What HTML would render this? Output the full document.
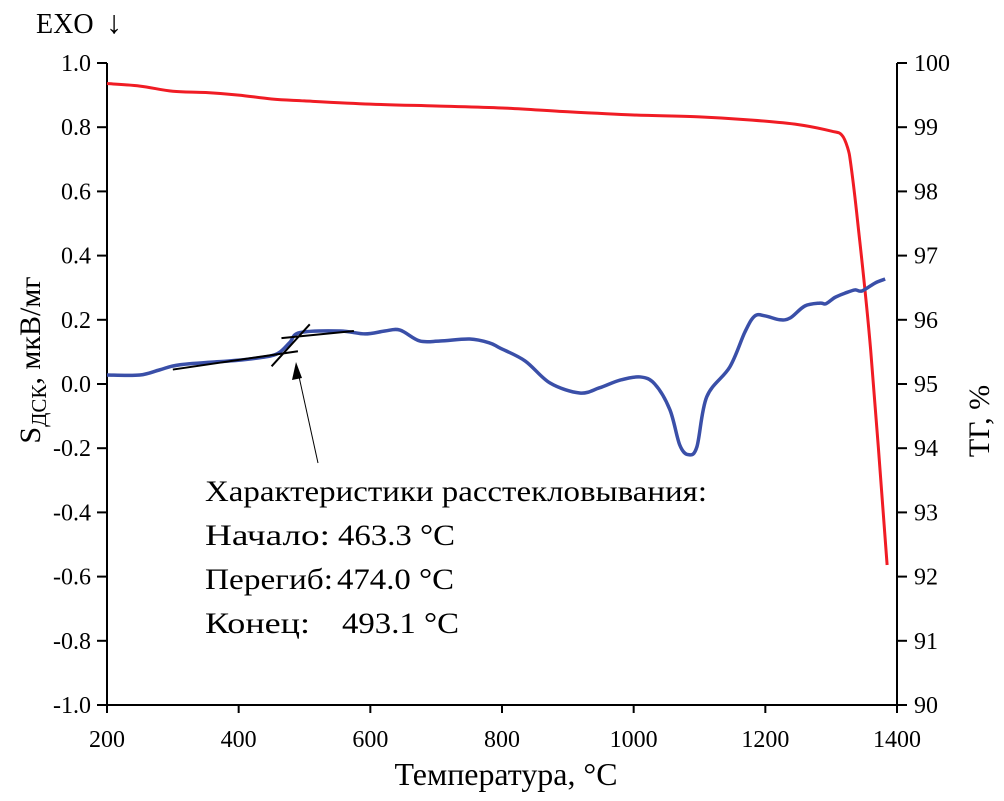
<!DOCTYPE html>
<html><head><meta charset="utf-8"><style>
body{margin:0;background:#fff}
svg{display:block;font-family:"Liberation Serif","DejaVu Serif",serif}
</style></head><body>
<svg id="c" width="1004" height="801" viewBox="0 0 1004 801"></svg>
<script>
const dscTemps=[200,250,280,311,387,417,448,463,478,493,554,592,622,645,675,706,751,781,797,835,873,918,948,979,1010,1032,1055,1070,1083,1096,1111,1146,1169,1184,1200,1222,1238,1260,1283,1292,1306,1321,1336,1347,1367,1382];
const dscValues=[0.028,0.028,0.044,0.06,0.072,0.078,0.087,0.1,0.13,0.16,0.165,0.156,0.165,0.168,0.134,0.134,0.14,0.128,0.112,0.072,0.003,-0.028,-0.012,0.012,0.022,0,-0.08,-0.19,-0.22,-0.196,-0.04,0.053,0.162,0.212,0.212,0.2,0.206,0.243,0.252,0.25,0.27,0.283,0.293,0.29,0.315,0.327];
const tgTemps=[200,250,300,350,400,450,500,600,700,800,900,1000,1100,1180,1250,1300,1316,1325,1330,1340,1360,1385];
const tgValues=[99.68,99.64,99.56,99.54,99.5,99.44,99.41,99.36,99.33,99.3,99.24,99.19,99.16,99.11,99.04,98.94,98.88,98.68,98.41,97.55,95.53,92.18];
const xTicks=[200,400,600,800,1000,1200,1400];
const yTicks=[1.0,0.8,0.6,0.4,0.2,0.0,-0.2,-0.4,-0.6,-0.8,-1.0];
const y2Ticks=[100,99,98,97,96,95,94,93,92,91,90];
const tangentLines=[[[300,0.045],[490,0.102]],[[465,0.143],[575,0.165]],[[450,0.055],[508,0.186]]];

const NS="http://www.w3.org/2000/svg",svg=document.getElementById('c');
const X0=107,X1=897,Y0=63,Y1=705;
const sx=t=>X0+(t-200)/1200*(X1-X0);
const sy=v=>Y0+(1-v)/2*(Y1-Y0);
const sy2=v=>Y0+(100-v)/10*(Y1-Y0);
function el(tag,attrs,txt){const e=document.createElementNS(NS,tag);for(const k in attrs)e.setAttribute(k,attrs[k]);if(txt!==undefined)e.textContent=txt;svg.appendChild(e);return e;}
function smooth(p){let d='M'+p[0][0]+','+p[0][1];for(let i=0;i<p.length-1;i++){const a=p[Math.max(i-1,0)],b=p[i],c=p[i+1],n=p[Math.min(i+2,p.length-1)];d+=' C'+(b[0]+(c[0]-a[0])/6)+','+(b[1]+(c[1]-a[1])/6)+' '+(c[0]-(n[0]-b[0])/6)+','+(c[1]-(n[1]-b[1])/6)+' '+c[0]+','+c[1];}return d;}
let e;
e=el('line',{x1:X0,y1:Y0,x2:X0,y2:Y1,stroke:'#000','stroke-width':2});


e=el('line',{x1:X1,y1:Y0,x2:X1,y2:Y1,stroke:'#000','stroke-width':2});


e=el('line',{x1:X0,y1:Y1,x2:X1,y2:Y1,stroke:'#000','stroke-width':2});


xTicks.forEach(t=>{
 e=el('line',{x1:sx(t),y1:Y1,x2:sx(t),y2:Y1+8,stroke:'#000','stroke-width':2});
 
 
 e=el('text',{x:sx(t),y:Y1+42,'text-anchor':'middle','font-size':24},t);
 
 
});
yTicks.forEach(v=>{
 e=el('line',{x1:X0-10,y1:sy(v),x2:X0,y2:sy(v),stroke:'#000','stroke-width':2});
 
 
 e=el('text',{x:X0-16,y:sy(v)+8,'text-anchor':'end','font-size':24},v.toFixed(1));
 
 
});
y2Ticks.forEach(v=>{
 e=el('line',{x1:X1,y1:sy2(v),x2:X1+10,y2:sy2(v),stroke:'#000','stroke-width':2});
 
 
 e=el('text',{x:X1+17,y:sy2(v)+8,'text-anchor':'start','font-size':24},v);
 
 
});
e=el('path',{d:smooth(tgTemps.map((t,i)=>[sx(t),sy2(tgValues[i])])),fill:'none',stroke:'#f01c24','stroke-width':3,'stroke-linejoin':'round'});


e=el('path',{d:smooth(dscTemps.map((t,i)=>[sx(t),sy(dscValues[i])])),fill:'none',stroke:'#3a4fa8','stroke-width':3.5,'stroke-linejoin':'round'});


tangentLines.forEach(l=>{
 e=el('line',{x1:sx(l[0][0]),y1:sy(l[0][1]),x2:sx(l[1][0]),y2:sy(l[1][1]),stroke:'#000','stroke-width':2});
 
 
});
e=el('line',{x1:318,y1:463,x2:298,y2:372,stroke:'#000','stroke-width':1});


e=el('polygon',{points:'296,362 292,380 302,378',fill:'#000'});


e=el('text',{x:205,y:501,'font-size':30,textLength:502,lengthAdjust:'spacingAndGlyphs'},'Характеристики расстекловывания:');


[['Начало:',125,338,'463.3 °C',545],['Перегиб:',128,337,'474.0 °C',589],['Конец:',105,342,'493.1 °C',633]].forEach(a=>{
 e=el('text',{x:205,y:a[4],'font-size':30,textLength:a[1],lengthAdjust:'spacingAndGlyphs'},a[0]);
 
 
 e=el('text',{x:a[2],y:a[4],'font-size':30,textLength:117,lengthAdjust:'spacingAndGlyphs'},a[3]);
 
 
});
e=el('text',{x:36,y:33,'font-size':28},'EXO');


e=el('text',{x:106,y:33,'font-size':32},'↓');


e=el('text',{x:506,y:785,'text-anchor':'middle','font-size':32,textLength:223,lengthAdjust:'spacingAndGlyphs'},'Температура, °C');


e=el('text',{transform:'translate(40,360) rotate(-90)','text-anchor':'middle','font-size':30});
e.innerHTML='<tspan>S</tspan><tspan font-size="21" dy="6">ДСК</tspan><tspan dy="-6">, мкВ/мг</tspan>';


e=el('text',{transform:'translate(989,421) rotate(-90)','text-anchor':'middle','font-size':30},'ТГ, %');


</script>
</body></html>
